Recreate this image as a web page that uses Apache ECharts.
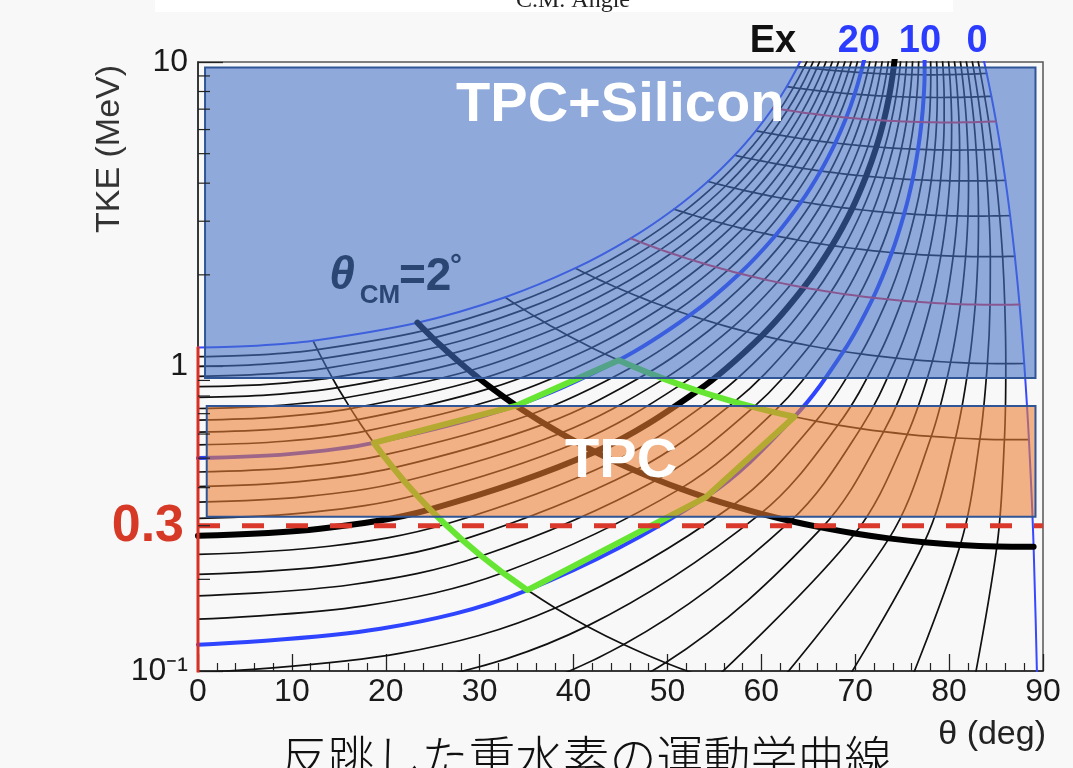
<!DOCTYPE html>
<html>
<head>
<meta charset="utf-8">
<script src="https://cdn.jsdelivr.net/npm/echarts@6/dist/echarts.min.js"></script>
<style>
  html, body { margin: 0; padding: 0; background: #f8f8f8; }
  #chart { width: 1073px; height: 768px; }
</style>
</head>
<body>
<div id="chart"></div>
<script>
// Excitation energies (MeV): one kinematic line for each value
const exLevels = [0,1,2,3,4,5,6,7,8,9,10,11,12,13,14,15,16,17,18,19,20,21,22,23,24,25,26,27,28,29,30];

// Deuteron TKE (MeV) at lab angle 0 (CM angle 0) for each Ex
const tkeAtZero = [null,0.0012,0.0048,0.0108,0.0192,0.0301,0.0435,0.0593,0.0777,0.0986,0.1220,0.1480,0.1765,0.2077,0.2415,0.2779,0.3170,0.3587,0.4032,0.4504,0.5003,0.5530,0.6085,0.6668,0.7279,0.7919,0.8588,0.9286,1.0013,1.0769,1.1556];

// CM angles (deg) of the kinematic grid nodes
const cmNodes = [0.5,1,2,3,4,5,6,7,8,9,10,11,12,13];

// Lab angle (deg) of each node: one row per CM angle, one column per Ex
const labTheta = [
  [null,null,null,null,null,null,30.80,26.99,23.95,21.47,19.43,17.72,16.27,15.02,13.95,13.00,12.17,11.43,10.77,10.18,9.644,9.158,8.715,8.309,7.936,7.593,7.275,6.981,6.707,6.452,6.213],
  [89.5,81.71,74.17,67.11,60.65,54.89,49.79,45.34,41.44,38.05,35.08,32.47,30.17,28.14,26.34,24.72,23.27,21.97,20.79,19.71,18.73,17.83,17.01,16.25,15.56,14.90,14.30,13.74,13.21,12.72,12.26],
  [89,85.09,81.19,77.36,73.60,69.97,66.46,63.10,59.92,56.90,54.06,51.38,48.89,46.54,44.34,42.30,40.38,38.60,36.93,35.37,33.90,32.54,31.25,30.04,28.92,27.84,26.85,25.91,25.01,24.18,23.37],
  [88.5,85.89,83.28,80.68,78.10,75.55,73.03,70.57,68.16,65.81,63.52,61.31,59.18,57.12,55.13,53.22,51.39,49.64,47.96,46.35,44.81,43.34,41.93,40.59,39.30,38.07,36.91,35.79,34.71,33.69,32.71],
  [88,86.04,84.08,82.12,80.16,78.22,76.28,74.36,72.47,70.59,68.75,66.95,65.16,63.42,61.72,60.07,58.43,56.86,55.32,53.84,52.39,50.98,49.62,48.30,47.03,45.80,44.59,43.44,42.32,41.23,40.19],
  [87.5,85.93,84.36,82.79,81.22,79.64,78.08,76.52,74.97,73.42,71.90,70.38,68.89,67.41,65.95,64.52,63.10,61.71,60.34,59.00,57.69,56.41,55.15,53.92,52.71,51.54,50.40,49.27,48.18,47.12,46.08],
  [87,85.70,84.39,83.07,81.76,80.44,79.13,77.82,76.50,75.20,73.90,72.61,71.32,70.05,68.79,67.53,66.30,65.07,63.86,62.67,61.48,60.33,59.18,58.04,56.94,55.85,54.78,53.73,52.69,51.68,50.69],
  [86.5,85.38,84.26,83.13,82.01,80.88,79.74,78.61,77.48,76.35,75.22,74.10,72.98,71.88,70.75,69.66,68.56,67.47,66.39,65.32,64.26,63.21,62.16,61.14,60.13,59.12,58.13,57.15,56.19,55.24,54.30],
  [86,85.02,84.04,83.06,82.07,81.08,80.08,79.09,78.10,77.11,76.11,75.12,74.12,73.13,72.15,71.16,70.18,69.22,68.24,67.28,66.32,65.36,64.43,63.48,62.56,61.63,60.72,59.81,58.92,58.03,57.15],
  [85.5,84.63,83.76,82.88,82.00,81.12,80.24,79.36,78.47,77.58,76.69,75.80,74.92,74.03,73.14,72.26,71.37,70.49,69.62,68.74,67.87,67.01,66.14,65.28,64.43,63.58,62.74,61.90,61.06,60.25,59.42],
  [85,84.22,83.43,82.65,81.85,81.06,80.27,79.47,78.67,77.87,77.07,76.26,75.46,74.66,73.85,73.05,72.25,71.44,70.64,69.84,69.05,68.25,67.46,66.67,65.88,65.10,64.32,63.54,62.77,62.01,61.24],
  [84.5,83.79,83.08,82.36,81.64,80.92,80.20,79.47,78.74,78.01,77.29,76.55,75.81,75.09,74.35,73.61,72.88,72.15,71.41,70.67,69.94,69.21,68.48,67.74,67.02,66.29,65.57,64.85,64.13,63.41,62.70],
  [84,83.35,82.70,82.04,81.38,80.72,80.06,79.39,78.72,78.05,77.39,76.71,76.03,75.36,74.69,74.00,73.33,72.65,71.98,71.29,70.61,69.94,69.26,68.58,67.90,67.23,66.56,65.88,65.21,64.55,63.87],
  [83.5,82.90,82.30,81.69,81.08,80.47,79.86,79.25,78.63,78.01,77.39,76.77,76.14,75.52,74.90,74.27,73.64,73.01,72.38,71.76,71.12,70.49,69.86,69.23,68.59,67.96,67.34,66.72,66.08,65.45,64.84]
];

// Deuteron TKE (MeV) of each node, same layout as labTheta
const labTke = [
  [null,null,null,null,null,null,0.0593,0.0750,0.0934,0.1142,0.1376,0.1636,0.1920,0.2232,0.2569,0.2933,0.3324,0.3740,0.4185,0.4657,0.5155,0.5682,0.6236,0.6819,0.7430,0.8069,0.8738,0.9435,1.0162,1.0918,1.1704],
  [0.0640,0.0650,0.0685,0.0743,0.0826,0.0933,0.1065,0.1222,0.1404,0.1611,0.1844,0.2102,0.2386,0.2696,0.3033,0.3395,0.3785,0.4200,0.4644,0.5114,0.5612,0.6137,0.6690,0.7272,0.7881,0.8519,0.9187,0.9883,1.0609,1.1363,1.2148],
  [0.2559,0.2564,0.2594,0.2648,0.2726,0.2829,0.2957,0.3108,0.3286,0.3489,0.3717,0.3971,0.4249,0.4555,0.4887,0.5244,0.5629,0.6040,0.6478,0.6944,0.7437,0.7957,0.8506,0.9082,0.9687,1.0320,1.0983,1.1674,1.2395,1.3144,1.3925],
  [0.5756,0.5754,0.5777,0.5823,0.5893,0.5988,0.6108,0.6253,0.6423,0.6618,0.6837,0.7083,0.7354,0.7652,0.7976,0.8326,0.8703,0.9105,0.9536,0.9994,1.0478,1.0991,1.1531,1.2100,1.2696,1.3322,1.3976,1.4659,1.5372,1.6113,1.6885],
  [1.0231,1.0219,1.0230,1.0266,1.0325,1.0409,1.0519,1.0652,1.0811,1.0995,1.1204,1.1439,1.1699,1.1986,1.2299,1.2638,1.3003,1.3395,1.3815,1.4261,1.4734,1.5236,1.5765,1.6322,1.6907,1.7522,1.8165,1.8837,1.9537,2.0267,2.1028],
  [1.5982,1.5956,1.5954,1.5976,1.6021,1.6092,1.6187,1.6307,1.6452,1.6622,1.6817,1.7038,1.7284,1.7557,1.7855,1.8180,1.8531,1.8909,1.9314,1.9746,2.0205,2.0692,2.1207,2.1750,2.2320,2.2920,2.3548,2.4206,2.4892,2.5607,2.6353],
  [2.3008,2.2965,2.2946,2.2951,2.2980,2.3034,2.3112,2.3214,2.3343,2.3496,2.3674,2.3877,2.4106,2.4361,2.4643,2.4950,2.5284,2.5644,2.6032,2.6447,2.6888,2.7357,2.7854,2.8379,2.8932,2.9514,3.0125,3.0764,3.1432,3.2129,3.2857],
  [3.1306,3.1243,3.1205,3.1190,3.1198,3.1232,3.1291,3.1373,3.1481,3.1614,3.1772,3.1955,3.2163,3.2399,3.2660,3.2946,3.3260,3.3599,3.3966,3.4360,3.4781,3.5229,3.5706,3.6210,3.6742,3.7302,3.7892,3.8510,3.9157,3.9833,4.0540],
  [4.0874,4.0789,4.0727,4.0689,4.0675,4.0686,4.0721,4.0780,4.0865,4.0975,4.1109,4.1269,4.1454,4.1666,4.1903,4.2166,4.2456,4.2772,4.3115,4.3485,4.3882,4.4306,4.4759,4.5239,4.5746,4.6283,4.6848,4.7442,4.8065,4.8716,4.9398],
  [5.1709,5.1598,5.1510,5.1446,5.1406,5.1391,5.1400,5.1433,5.1492,5.1575,5.1683,5.1817,5.1975,5.2160,5.2370,5.2607,5.2870,5.3159,5.3475,5.3818,5.4188,5.4585,5.5010,5.5463,5.5944,5.6453,5.6990,5.7557,5.8152,5.8775,5.9429],
  [6.3807,6.3667,6.3551,6.3458,6.3389,6.3344,6.3324,6.3328,6.3357,6.3411,6.3489,6.3593,6.3722,6.3878,6.4059,6.4265,6.4498,6.4757,6.5044,6.5357,6.5696,6.6063,6.6458,6.6880,6.7330,6.7808,6.8315,6.8850,6.9414,7.0007,7.0630],
  [7.7166,7.6994,7.6845,7.6721,7.6619,7.6543,7.6490,7.6462,7.6459,7.6480,7.6526,7.6598,7.6694,7.6816,7.6964,7.7138,7.7338,7.7564,7.7817,7.8096,7.8402,7.8736,7.9097,7.9486,7.9902,8.0346,8.0819,8.1321,8.1851,8.2409,8.2998],
  [9.1780,9.1573,9.1390,9.1230,9.1094,9.0982,9.0894,9.0830,9.0792,9.0778,9.0788,9.0824,9.0884,9.0971,9.1083,9.1220,9.1384,9.1574,9.1790,9.2033,9.2303,9.2599,9.2924,9.3275,9.3655,9.4062,9.4498,9.4962,9.5455,9.5976,9.6527],
  [10.765,10.740,10.718,10.698,10.681,10.666,10.653,10.643,10.635,10.630,10.627,10.627,10.629,10.634,10.641,10.651,10.663,10.678,10.696,10.717,10.740,10.765,10.794,10.825,10.859,10.896,10.935,10.977,11.023,11.071,11.122]
];

// Constant-CM-angle lines that are drawn (deg)
const cmLines = [1,2,3,4,5,6,7,8,9,10,11,12];

// Detector acceptance boxes: lab angle range and TKE range
const boxNames = ['TPC+Silicon', 'TPC'];
const boxTheta = [[0.75, 89.2], [0.93, 89.2]];
const boxTke = [[0.917, 9.59], [0.321, 0.742]];

// Threshold line (MeV)
const tkeThreshold = 0.3;

// Highlighted window of the grid: Ex range and CM angle range
const windowEx = [10, 20];
const windowCm = [1, 3];

// Axis tick values
const xTicks = [0,10,20,30,40,50,60,70,80,90];
const yMinorTicks = [0.2,0.3,0.4,0.5,0.6,0.7,0.8,0.9,2,3,4,5,6,7,8,9];

// ---------------------------------------------------------------
const SANS = '"Liberation Sans", Arial, Helvetica, sans-serif';
const nodeIdx = a => cmNodes.indexOf(a);
const gridPt = (a, e) => [labTheta[nodeIdx(a)][e], labTke[nodeIdx(a)][e]];

function exRowPoints(e) {
  const pts = [];
  if (e >= 6 && tkeAtZero[e] != null) pts.push([0, tkeAtZero[e]]);
  cmNodes.forEach((a, i) => {
    const t = labTheta[i][e];
    if (t != null) pts.push([t, labTke[i][e]]);
  });
  return pts;
}
function cmLinePoints(a) {
  return exLevels.map(e => gridPt(a, e));
}
function exStyle(e) {
  if (e === 15) return { color: '#000000', width: 6, z: 3 };
  if (e === 10 || e === 20) return { color: '#2f44ff', width: 4, z: 3 };
  if (e === 0 || e === 30) return { color: '#3848ff', width: 2, z: 3 };
  return { color: '#111111', width: 1.7, z: 2 };
}
function cmStyle(a) {
  if (a === 2) return { color: '#000000', width: 6, z: 3 };
  if (a === 5 || a === 10) return { color: '#e8344a', width: 2, z: 3 };
  return { color: '#111111', width: 1.7, z: 2 };
}
function lineSeries(name, data, st, smooth) {
  return {
    name, type: 'line', data, smooth, showSymbol: false, symbol: 'none',
    silent: true, clip: true, z: st.z, animation: false,
    lineStyle: { color: st.color, width: st.width, cap: 'round', join: 'round' }
  };
}

const series = [];
exLevels.forEach(e => series.push(lineSeries('Ex ' + e, exRowPoints(e), exStyle(e), 0.35)));
cmLines.forEach(a => series.push(lineSeries('CM ' + a, cmLinePoints(a), cmStyle(a), 0.3)));

// CM angle 0: the lab angle 0 line
series.push(lineSeries('CM 0', exLevels.filter(e => e > 0).map(e => [0, tkeAtZero[e]]),
  { color: '#d93025', width: 3, z: 3 }, false));

// Highlighted window outline built from the grid nodes
(function () {
  const [eLo, eHi] = windowEx;
  const [aLo, aHi] = windowCm;
  const cms = cmNodes.filter(a => a >= aLo && a <= aHi);
  const pts = [];
  cms.forEach(a => pts.push(gridPt(a, eHi)));
  for (let e = eHi - 1; e >= eLo; e--) pts.push(gridPt(aHi, e));
  cms.slice().reverse().slice(1).forEach(a => pts.push(gridPt(a, eLo)));
  for (let e = eLo + 1; e <= eHi; e++) pts.push(gridPt(aLo, e));
  series.push({
    type: 'line', data: pts, smooth: false, showSymbol: false, symbol: 'none',
    silent: true, z: 4, animation: false,
    lineStyle: { color: '#66e633', width: 6, join: 'round', cap: 'round' }
  });
})();

// Threshold line
series.push({
  type: 'line', data: [[0, tkeThreshold], [90, tkeThreshold]], showSymbol: false, symbol: 'none',
  silent: true, z: 4, animation: false,
  lineStyle: { color: '#d9382b', width: 5, type: [22, 22] }
});

// Minor ticks of the log axis
series.push({
  type: 'custom', silent: true, z: 7, animation: false,
  data: yMinorTicks.map(v => [0, v]),
  renderItem: (params, api) => {
    const p = api.coord([0, api.value(1)]);
    return {
      type: 'line',
      shape: { x1: p[0], y1: p[1], x2: p[0] + 12, y2: p[1] },
      style: { stroke: '#222', lineWidth: 1.2 }
    };
  }
});

// Detector acceptance boxes, drawn over the kinematic lines
const boxFill = ['rgba(68,114,196,0.58)', 'rgba(237,125,49,0.58)'];
series.push({
  type: 'custom', silent: true, z: 6, animation: false, clip: false,
  data: boxNames.map((n, i) => [boxTheta[i][0], boxTke[i][0], boxTheta[i][1], boxTke[i][1]]),
  renderItem: (params, api) => {
    const i = params.dataIndex;
    const p0 = api.coord([api.value(0), api.value(3)]);
    const p1 = api.coord([api.value(2), api.value(1)]);
    const w = p1[0] - p0[0], h = p1[1] - p0[1];
    const ty = i === 0 ? p0[1] + 38 : p0[1] + h / 2;
    return {
      type: 'group',
      children: [
        { type: 'rect', shape: { x: p0[0], y: p0[1], width: w, height: h },
          style: { fill: boxFill[i], stroke: '#2f5597', lineWidth: 2 } },
        { type: 'text', x: p0[0] + w / 2, y: ty,
          style: { text: boxNames[i], fill: '#ffffff', font: 'bold 56px ' + SANS,
                   align: 'center', verticalAlign: 'middle' } }
      ]
    };
  }
});

const chart = echarts.init(document.getElementById('chart'), null, { renderer: 'canvas' });
chart.setOption({
  animation: false,
  backgroundColor: '#f8f8f8',
  grid: { left: 198, right: 30, top: 62, bottom: 97, show: true,
          borderColor: '#555', borderWidth: 1.5, backgroundColor: 'transparent' },
  xAxis: {
    type: 'value', min: 0, max: 90, interval: 10,
    axisLine: { show: true, onZero: false, lineStyle: { color: '#222', width: 1.5 } },
    axisTick: { show: true, inside: true, length: 17, lineStyle: { color: '#222', width: 1.3 } },
    minorTick: { show: true, splitNumber: 5, length: 8, lineStyle: { color: '#222', width: 1.2 } },
    axisLabel: { fontSize: 32, color: '#1a1a1a', margin: 5, fontFamily: SANS,
                 customValues: xTicks },
    splitLine: { show: false }, minorSplitLine: { show: false }
  },
  yAxis: {
    type: 'log', logBase: 10, min: 0.1, max: 10,
    axisLine: { show: true, onZero: false, lineStyle: { color: '#222', width: 1.5 } },
    axisTick: { show: true, inside: true, length: 25, lineStyle: { color: '#222', width: 1.3 } },
    minorTick: { show: false },
    axisLabel: {
      fontSize: 32, color: '#1a1a1a', margin: 10, fontFamily: SANS,
      formatter: v => {
        const p = Math.round(Math.log10(v));
        return p === -1 ? '10\u207B\u00B9' : (p === 0 ? '1' : '10');
      }
    },
    splitLine: { show: false }
  },
  graphic: [
    { type: 'rect', silent: true, z: -10, shape: { x: 155, y: 0, width: 798, height: 12 },
      style: { fill: '#ffffff' } },
    { type: 'text', silent: true, z: 10, x: 573, y: 13,
      style: { text: 'C.M. Angle', font: '24px "Liberation Serif", "Times New Roman", serif',
               fill: '#222', align: 'center', verticalAlign: 'bottom' } },
    { type: 'text', silent: true, z: 10, x: 773, y: 42,
      style: { text: 'Ex', font: 'bold 38px ' + SANS, fill: '#111', align: 'center', verticalAlign: 'middle' } },
    { type: 'text', silent: true, z: 10, x: 859, y: 42,
      style: { text: '20', font: 'bold 38px ' + SANS, fill: '#2b3cff', align: 'center', verticalAlign: 'middle' } },
    { type: 'text', silent: true, z: 10, x: 920, y: 42,
      style: { text: '10', font: 'bold 38px ' + SANS, fill: '#2b3cff', align: 'center', verticalAlign: 'middle' } },
    { type: 'text', silent: true, z: 10, x: 977, y: 42,
      style: { text: '0', font: 'bold 38px ' + SANS, fill: '#2b3cff', align: 'center', verticalAlign: 'middle' } },
    { type: 'text', silent: true, z: 10, x: 184, y: 527,
      style: { text: '0.3', font: 'bold 52px ' + SANS, fill: '#d63a26', align: 'right', verticalAlign: 'middle' } },
    { type: 'text', silent: true, z: 10, x: 342, y: 276,
      style: { text: '\u03B8', font: 'italic bold 46px ' + SANS, fill: '#2b4673', align: 'center', verticalAlign: 'middle' } },
    { type: 'text', silent: true, z: 10, x: 380, y: 296,
      style: { text: 'CM', font: 'bold 26px ' + SANS, fill: '#2b4673', align: 'center', verticalAlign: 'middle' } },
    { type: 'text', silent: true, z: 10, x: 399, y: 277,
      style: { text: '=2', font: 'bold 46px ' + SANS, fill: '#2b4673', align: 'left', verticalAlign: 'middle' } },
    { type: 'text', silent: true, z: 10, x: 456, y: 252,
      style: { text: '\u00B0', font: 'bold 30px ' + SANS, fill: '#2b4673', align: 'center', verticalAlign: 'top' } },
    { type: 'text', silent: true, z: 10, x: 110, y: 149, rotation: Math.PI / 2,
      style: { text: 'TKE (MeV)', font: '34px ' + SANS, fill: '#333', align: 'center', verticalAlign: 'middle' } },
    { type: 'text', silent: true, z: 10, x: 1046, y: 735,
      style: { text: '\u03B8 (deg)', font: '34px ' + SANS, fill: '#222', align: 'right', verticalAlign: 'middle' } },
    { type: 'text', silent: true, z: 10, x: 586, y: 757,
      style: { text: '反跳した重水素の運動学曲線', font: '300 47px "Noto Sans CJK JP", sans-serif',
               fill: '#111', align: 'center', verticalAlign: 'middle' } }
  ],
  series
});
</script>
</body>
</html>
